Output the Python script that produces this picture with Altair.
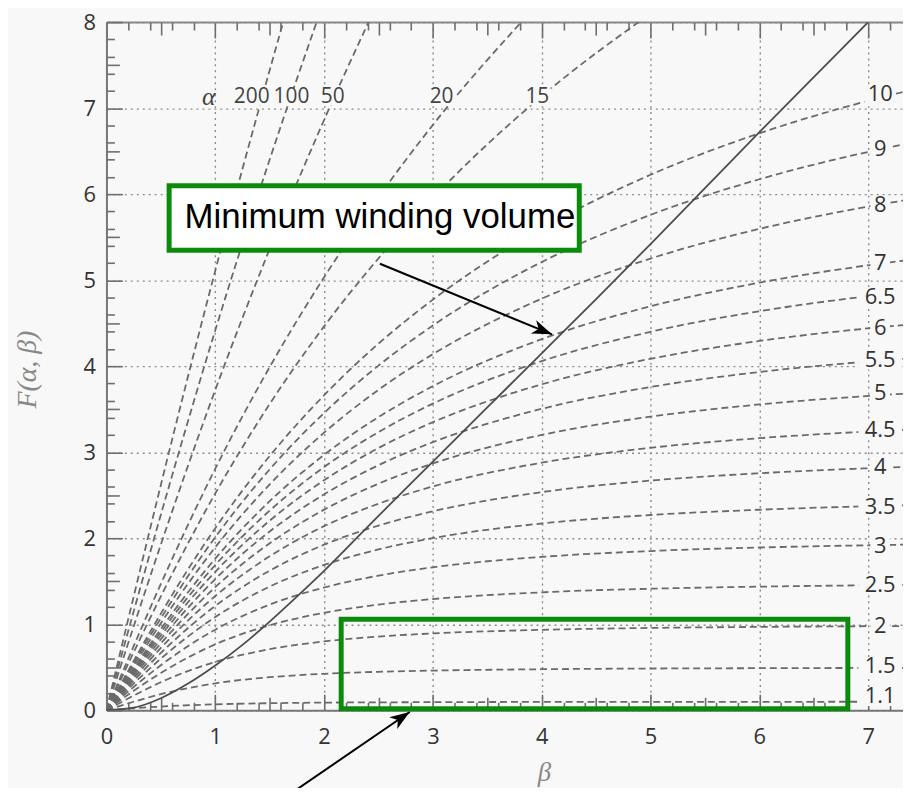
import altair as alt
import pandas as pd

# ---------------- data ----------------
BETA = [0, 0.25, 0.5, 1, 1.5, 2, 2.5, 3, 4, 5, 6, 7, 7.5]

F_1_1 = [0, 0.023, 0.043, 0.069, 0.082, 0.089, 0.092, 0.094, 0.097, 0.098, 0.098, 0.099, 0.099]
F_1_5 = [0, 0.099, 0.187, 0.313, 0.384, 0.424, 0.447, 0.461, 0.477, 0.485, 0.489, 0.492, 0.493]
F_2 = [0, 0.170, 0.326, 0.562, 0.710, 0.800, 0.857, 0.893, 0.935, 0.957, 0.969, 0.977, 0.980]
F_2_5 = [0, 0.226, 0.434, 0.766, 0.988, 1.133, 1.228, 1.293, 1.371, 1.413, 1.437, 1.453, 1.459]
F_3 = [0, 0.271, 0.524, 0.937, 1.228, 1.427, 1.565, 1.662, 1.783, 1.851, 1.892, 1.918, 1.929]
F_3_5 = [0, 0.310, 0.600, 1.084, 1.438, 1.689, 1.870, 2.001, 2.171, 2.270, 2.331, 2.372, 2.387]
F_4 = [0, 0.343, 0.666, 1.213, 1.623, 1.925, 2.147, 2.313, 2.536, 2.670, 2.755, 2.813, 2.834]
F_4_5 = [0, 0.372, 0.725, 1.328, 1.790, 2.140, 2.401, 2.602, 2.878, 3.051, 3.163, 3.240, 3.269]
F_5 = [0, 0.399, 0.777, 1.431, 1.941, 2.332, 2.634, 2.869, 3.201, 3.413, 3.555, 3.654, 3.692]
F_5_5 = [0, 0.423, 0.825, 1.525, 2.078, 2.510, 2.849, 3.117, 3.504, 3.758, 3.932, 4.054, 4.101]
F_6 = [0, 0.444, 0.868, 1.610, 2.204, 2.674, 3.049, 3.349, 3.789, 4.086, 4.293, 4.440, 4.498]
F_6_5 = [0, 0.464, 0.908, 1.689, 2.321, 2.827, 3.234, 3.565, 4.059, 4.399, 4.639, 4.813, 4.882]
F_7 = [0, 0.483, 0.945, 1.763, 2.430, 2.969, 3.408, 3.768, 4.314, 4.696, 4.971, 5.173, 5.254]
F_8 = [0, 0.516, 1.012, 1.895, 2.626, 3.227, 3.725, 4.140, 4.785, 5.251, 5.596, 5.855, 5.961]
F_9 = [0, 0.546, 1.070, 2.012, 2.800, 3.456, 4.007, 4.473, 5.211, 5.759, 6.173, 6.491, 6.623]
F_10 = [0, 0.572, 1.123, 2.117, 2.956, 3.662, 4.262, 4.774, 5.599, 6.225, 6.707, 7.085, 7.243]
F_15 = [0, 0.673, 1.325, 2.521, 3.560, 4.463, 5.254, 5.955, 7.139, 8.099]
F_20 = [0, 0.745, 1.469, 2.808, 3.990, 5.034, 5.966, 6.805, 8.260]
F_50 = [0, 0.974, 1.927, 3.724, 5.362, 6.862, 8.249]
F_100 = [0, 1.147, 2.274, 4.417, 6.402, 8.248]
F_200 = [0, 1.321, 2.620, 5.110, 7.441, 9.634]

ALPHA_NAMES = ["1.1", "1.5", "2", "2.5", "3", "3.5", "4", "4.5", "5", "5.5", "6",
               "6.5", "7", "8", "9", "10", "15", "20", "50", "100", "200"]
CURVE_F = [F_1_1, F_1_5, F_2, F_2_5, F_3, F_3_5, F_4, F_4_5, F_5, F_5_5, F_6,
           F_6_5, F_7, F_8, F_9, F_10, F_15, F_20, F_50, F_100, F_200]

# minimum winding volume curve (solid)
BETA_MIN = [0, 0.25, 0.5, 0.75, 1, 1.25, 1.5, 1.75, 2, 2.5, 3, 3.5, 4, 4.5, 5, 5.5, 6, 6.5, 7]
F_MIN = [0, 0.03, 0.14, 0.31, 0.52, 0.76, 1.03, 1.32, 1.62, 2.26, 2.89, 3.52, 4.15, 4.78, 5.42,
         6.07, 6.72, 7.36, 8.0]

# tick values
X_TICKS = [0, 1, 2, 3, 4, 5, 6, 7]
Y_TICKS = [0, 1, 2, 3, 4, 5, 6, 7, 8]
X_HALF = [0.5, 1.5, 2.5, 3.5, 4.5, 5.5, 6.5]
Y_HALF = [0.5, 1.5, 2.5, 3.5, 4.5, 5.5, 6.5, 7.5]
MINOR_FRAC = [0.2, 0.4, 0.6, 0.8]

# curve labels on the right
RIGHT_LABELS = ["10", "9", "8", "7", "6.5", "6", "5.5", "5", "4.5", "4", "3.5", "3",
                "2.5", "2", "1.5", "1.1"]
RIGHT_F = [7.16, 6.52, 5.87, 5.20, 4.80, 4.44, 4.07, 3.69, 3.26, 2.83, 2.36, 1.91,
           1.45, 0.98, 0.51, 0.16]
RIGHT_BETA = 7.11

# curve labels at the top
TOP_LABELS = ["200", "100", "50", "20", "15"]
TOP_BETA = [1.335, 1.70, 2.08, 3.08, 3.96]
TOP_F = 7.13
ALPHA_SYMBOL = "α"
ALPHA_SYMBOL_BETA = 0.94

# annotations
BOX_TEXT = "Minimum winding volume"
BOX1 = [0.576, 4.345, 5.347, 6.098]      # beta1, beta2, F1, F2
BOX1_TEXT_POS = [2.513, 5.61]
BOX2 = [2.157, 6.813, 0.017, 1.058]
ARROW_START_BETA = [2.513, 1.691]
ARROW_START_F = [5.191, -0.971]
ARROW_TIP_BETA = [4.094, 2.787]
ARROW_TIP_F = [4.370, -0.02]
ARROW_ANGLE = [112, 56]

# ---------------- styling ----------------
BG = "#f8f8f8"
GREEN = "#0c8a0c"
SANS = "Open Sans"
SERIF = "Liberation Serif"
W, H = 801, 692
XS = alt.Scale(domain=[0, 7.32], nice=False, zero=False)
YS = alt.Scale(domain=[0, 8], nice=False, zero=False)

curves = pd.DataFrame(
    [{"alpha": a, "beta": b, "F": f}
     for a, fs in zip(ALPHA_NAMES, CURVE_F) for b, f in zip(BETA, fs)]
)
minline = pd.DataFrame({"beta": BETA_MIN, "F": F_MIN})
dummy = pd.DataFrame({"beta": [0.0], "F": [0.0]})

main_x_axis = alt.Axis(
    orient="bottom", values=X_TICKS, labels=True, labelFont=SANS, labelFontSize=22,
    labelColor="#333", labelPadding=16, labelFlush=False, labelOverlap=False,
    ticks=False, tickSize=0, domain=True, domainColor="#777", domainWidth=2,
    grid=True, gridColor="#8c8c8c", gridDash=[2, 4], gridWidth=1.4,
    title="β", titleFont=SERIF, titleFontStyle="italic", titleFontWeight="normal",
    titleFontSize=27, titleColor="#888", titleX=440, titleY=71,
    titleAlign="center", titleBaseline="alphabetic",
)
main_y_axis = alt.Axis(
    orient="left", values=Y_TICKS, labels=True, labelFont=SANS, labelFontSize=22,
    labelColor="#333", labelPadding=11, labelFlush=False, labelOverlap=False,
    ticks=False, tickSize=0, domain=True, domainColor="#777", domainWidth=2,
    grid=True, gridColor="#8c8c8c", gridDash=[2, 4], gridWidth=1.4,
    title="F(α, β)", titleFont=SERIF, titleFontStyle="italic", titleFontWeight="normal",
    titleFontSize=28, titleColor="#888", titleAngle=270, titleX=-79, titleY=349,
    titleAlign="center", titleBaseline="middle",
)

curve_layer = alt.Chart(curves).mark_line(
    color="#6a6a6a", strokeWidth=1.8, strokeDash=[7, 4], interpolate="monotone", clip=True
).encode(
    x=alt.X("beta:Q", scale=XS, axis=main_x_axis),
    y=alt.Y("F:Q", scale=YS, axis=main_y_axis),
    detail="alpha:N",
)


def tick_axis(orient, offset, values, size, domain=False):
    return alt.Axis(
        orient=orient, offset=offset, values=values, labels=False, ticks=True,
        tickSize=size, tickColor="#6e6e6e", tickWidth=1.6, domain=domain,
        domainColor="#888", domainWidth=2, grid=False, title="",
    )


def tick_layer(xaxis, yaxis):
    return alt.Chart(dummy).mark_point(opacity=0).encode(
        x=alt.X("beta:Q", scale=XS, axis=xaxis),
        y=alt.Y("F:Q", scale=YS, axis=yaxis),
    )


x_minor = [i + f for i in range(8) for f in MINOR_FRAC if i + f < 7.32]
y_minor = [i + f for i in range(8) for f in MINOR_FRAC]

min_layer = alt.Chart(minline).mark_line(
    color="#4d4d4d", strokeWidth=1.8, interpolate="monotone", clip=True
).encode(
    x=alt.X("beta:Q", scale=XS, axis=tick_axis("bottom", -H, X_TICKS, 16, domain=True)),
    y=alt.Y("F:Q", scale=YS, axis=tick_axis("right", -W, Y_TICKS, 16)),
)

tick_layers = [
    tick_layer(tick_axis("bottom", -H, X_HALF, 13), tick_axis("right", -W, Y_HALF, 13)),
    tick_layer(tick_axis("bottom", -H, x_minor, 8), tick_axis("right", -W, y_minor, 8)),
    tick_layer(tick_axis("top", -H, X_TICKS, 16), None),
    tick_layer(tick_axis("top", -H, X_HALF, 13), None),
    tick_layer(tick_axis("top", -H, x_minor, 8), None),
]

# right-hand labels with background patches
rlab = pd.DataFrame({"t": RIGHT_LABELS, "F": RIGHT_F, "b": [RIGHT_BETA] * len(RIGHT_LABELS)})
rlab_bg = alt.Chart(rlab).transform_calculate(
    x1="datum.b - (0.055*length(datum.t) + 0.035)",
    x2="datum.b + (0.055*length(datum.t) + 0.035)",
    y1="datum.F - 0.11",
    y2="datum.F + 0.11",
).mark_rect(color=BG).encode(
    x=alt.X("x1:Q", scale=XS, axis=None), x2="x2:Q",
    y=alt.Y("y1:Q", scale=YS, axis=None), y2="y2:Q",
)
rlab_text = alt.Chart(rlab).mark_text(
    font=SANS, fontSize=22, color="#333", align="center", baseline="middle"
).encode(
    x=alt.X("b:Q", scale=XS, axis=None),
    y=alt.Y("F:Q", scale=YS, axis=None),
    text="t:N",
)

tlab = pd.DataFrame({"t": TOP_LABELS, "b": TOP_BETA, "F": [TOP_F] * len(TOP_LABELS)})
tlab_bg = alt.Chart(tlab).transform_calculate(
    x1="datum.b - (0.055*length(datum.t) + 0.02)",
    x2="datum.b + (0.055*length(datum.t) + 0.02)",
    y1="datum.F - 0.1",
    y2="datum.F + 0.1",
).mark_rect(color=BG).encode(
    x=alt.X("x1:Q", scale=XS, axis=None), x2="x2:Q",
    y=alt.Y("y1:Q", scale=YS, axis=None), y2="y2:Q",
)
tlab_text = alt.Chart(tlab).mark_text(
    font=SANS, fontSize=21, color="#444", align="center", baseline="middle"
).encode(
    x=alt.X("b:Q", scale=XS, axis=None),
    y=alt.Y("F:Q", scale=YS, axis=None),
    text="t:N",
)
alpha_df = pd.DataFrame({"t": [ALPHA_SYMBOL], "b": [ALPHA_SYMBOL_BETA], "F": [TOP_F]})
alpha_text = alt.Chart(alpha_df).mark_text(
    font=SERIF, fontStyle="italic", fontSize=26, color="#444", align="center", baseline="middle"
).encode(
    x=alt.X("b:Q", scale=XS, axis=None),
    y=alt.Y("F:Q", scale=YS, axis=None),
    text="t:N",
)

box1_df = pd.DataFrame({"x1": [BOX1[0]], "x2": [BOX1[1]], "y1": [BOX1[2]], "y2": [BOX1[3]]})
box1 = alt.Chart(box1_df).mark_rect(fill="white", stroke=GREEN, strokeWidth=5, opacity=1).encode(
    x=alt.X("x1:Q", scale=XS, axis=None), x2="x2:Q",
    y=alt.Y("y1:Q", scale=YS, axis=None), y2="y2:Q",
)
box1_text_df = pd.DataFrame({"t": [BOX_TEXT], "b": [BOX1_TEXT_POS[0]], "F": [BOX1_TEXT_POS[1]]})
box1_text = alt.Chart(box1_text_df).mark_text(
    font="Liberation Sans", fontSize=35, color="black", align="center", baseline="alphabetic"
).encode(
    x=alt.X("b:Q", scale=XS, axis=None),
    y=alt.Y("F:Q", scale=YS, axis=None),
    text="t:N",
)
box2_df = pd.DataFrame({"x1": [BOX2[0]], "x2": [BOX2[1]], "y1": [BOX2[2]], "y2": [BOX2[3]]})
box2 = alt.Chart(box2_df).mark_rect(fillOpacity=0, stroke=GREEN, strokeWidth=5).encode(
    x=alt.X("x1:Q", scale=XS, axis=None), x2="x2:Q",
    y=alt.Y("y1:Q", scale=YS, axis=None), y2="y2:Q",
)

arrows = pd.DataFrame({
    "x1": ARROW_START_BETA, "y1": ARROW_START_F,
    "x2": ARROW_TIP_BETA, "y2": ARROW_TIP_F, "ang": ARROW_ANGLE,
})
arrow_shaft = alt.Chart(arrows).mark_rule(color="black", strokeWidth=2).encode(
    x=alt.X("x1:Q", scale=XS, axis=None), x2="x2:Q",
    y=alt.Y("y1:Q", scale=YS, axis=None), y2="y2:Q",
)
arrow_head = alt.Chart(arrows).mark_point(
    shape="M0,0 L-0.36,1 L0,0.72 L0.36,1 Z", filled=True, color="black", opacity=1, size=1600
).encode(
    x=alt.X("x2:Q", scale=XS, axis=None),
    y=alt.Y("y2:Q", scale=YS, axis=None),
    angle=alt.Angle("ang:Q", scale=None),
)

chart = alt.layer(
    curve_layer, min_layer, *tick_layers,
    rlab_bg, rlab_text, tlab_bg, tlab_text, alpha_text,
    box1, box1_text, box2, arrow_shaft, arrow_head,
).resolve_axis(x="independent", y="independent").properties(
    width=W, height=H,
    padding={"left": 99, "top": 12, "right": 0, "bottom": 76},
    autosize=alt.AutoSizeParams(type="none"),
    background=BG,
).configure_view(strokeWidth=0)

chart.save("out.html", embed_options={"renderer": "svg", "actions": False})
